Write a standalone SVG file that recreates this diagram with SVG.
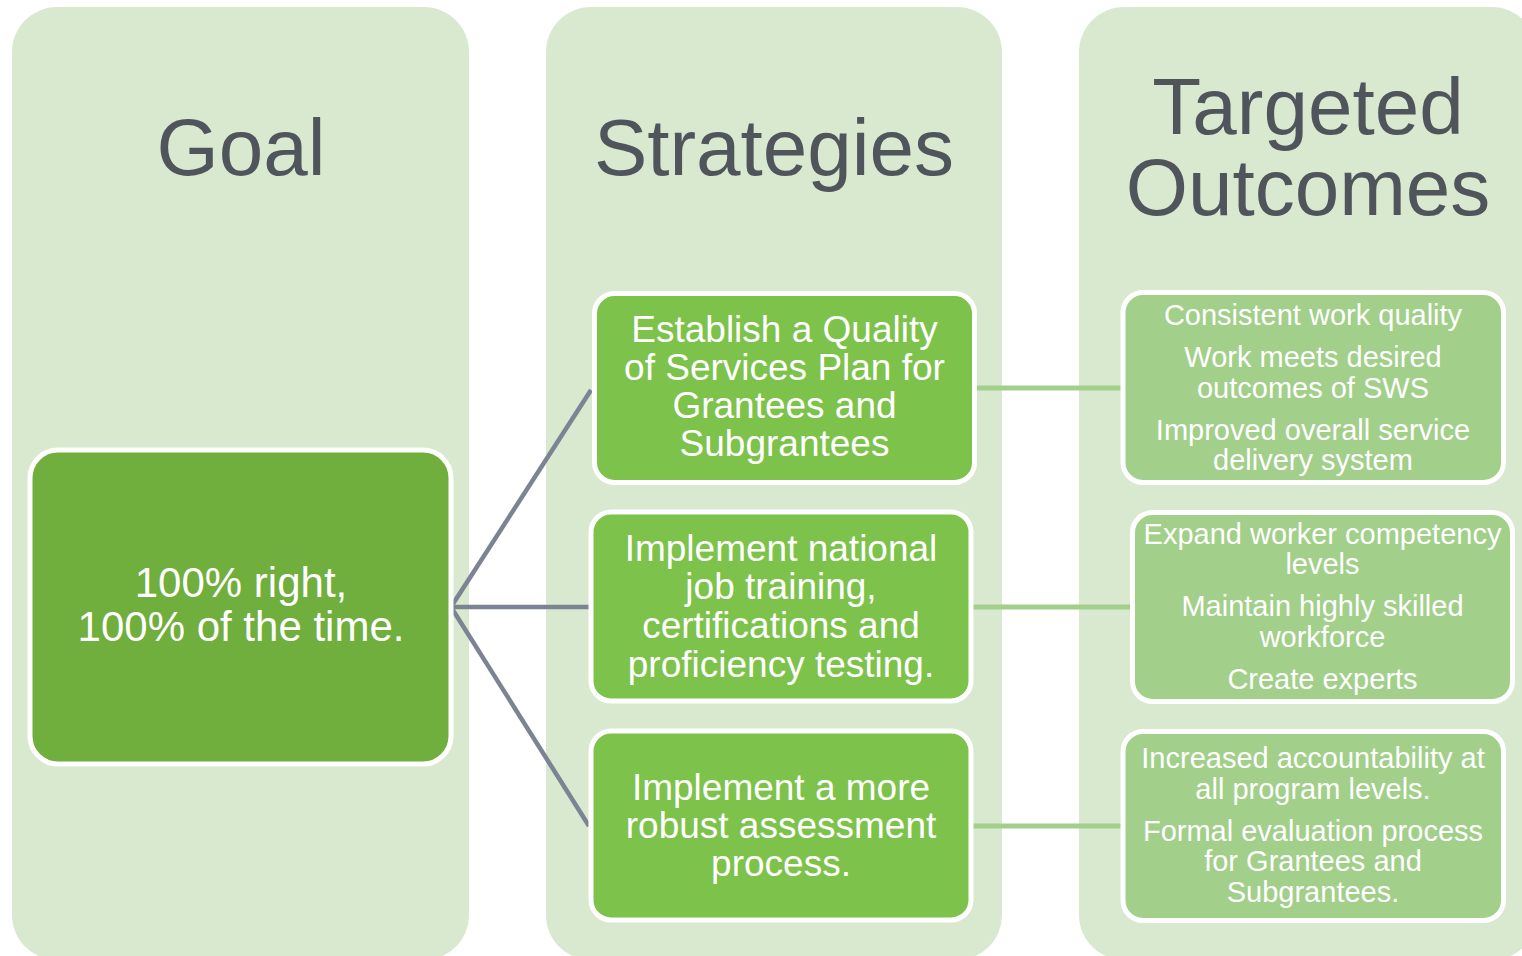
<svg xmlns="http://www.w3.org/2000/svg" width="1522" height="956" viewBox="0 0 1522 956">
<style>
.col{fill:#D8E9D0}
.title{font-family:"Liberation Sans",Arial,sans-serif;font-size:80px;fill:#50555C;text-anchor:middle}
.goal{fill:#70AE3D;stroke:#FFFFFF;stroke-width:5}
.strat{fill:#7DC24A;stroke:#FFFFFF;stroke-width:5}
.out{fill:#A2CF8A;stroke:#FFFFFF;stroke-width:5}
.t42{font-family:"Liberation Sans",Arial,sans-serif;font-size:42px;fill:#FFFFFF;text-anchor:middle}
.t37{font-family:"Liberation Sans",Arial,sans-serif;font-size:37px;fill:#FFFFFF;text-anchor:middle}
.t29{font-family:"Liberation Sans",Arial,sans-serif;font-size:29px;fill:#FFFFFF;text-anchor:middle}
.gray{stroke:#7C8393;stroke-width:4.5;fill:none}
.green{stroke:#A2CF8A;stroke-width:5;fill:none}
</style>
<rect width="1522" height="956" fill="#FFFFFF"/>
<g id="columns">
<rect class="col" x="12" y="7" width="457" height="953" rx="45"/>
<rect class="col" x="546" y="7" width="456" height="953" rx="45"/>
<rect class="col" x="1079" y="7" width="458" height="953" rx="45"/>
<text class="title" x="241" y="175">Goal</text>
<text class="title" x="774" y="175">Strategies</text>
<text class="title" x="1308" y="134">Targeted</text>
<text class="title" x="1308" y="215">Outcomes</text>
</g>
<g id="connectors">
<line class="gray" x1="451" y1="607" x2="591" y2="390"/>
<line class="gray" x1="451" y1="607" x2="589" y2="607"/>
<line class="gray" x1="451" y1="607" x2="589" y2="826"/>
<line class="green" x1="976" y1="388" x2="1122" y2="388"/>
<line class="green" x1="971" y1="607" x2="1132" y2="607"/>
<line class="green" x1="971" y1="826" x2="1122" y2="826"/>
</g>
<g id="goal">
<rect class="goal" x="30" y="450" width="421" height="314" rx="28"/>
<text class="t42" x="241" y="597">100% right,</text>
<text class="t42" x="241" y="641">100% of the time.</text>
</g>
<g id="strategy1">
<rect class="strat" x="594.5" y="293.5" width="380" height="189" rx="20"/>
<text class="t37" x="784.5" y="342">Establish a Quality</text>
<text class="t37" x="784.5" y="380">of Services Plan for</text>
<text class="t37" x="784.5" y="418">Grantees and</text>
<text class="t37" x="784.5" y="456">Subgrantees</text>
</g>
<g id="strategy2">
<rect class="strat" x="591" y="512" width="380" height="189" rx="20"/>
<text class="t37" x="781" y="561">Implement national</text>
<text class="t37" x="781" y="599">job training,</text>
<text class="t37" x="781" y="638">certifications and</text>
<text class="t37" x="781" y="677">proficiency testing.</text>
</g>
<g id="strategy3">
<rect class="strat" x="591" y="731" width="380" height="189" rx="20"/>
<text class="t37" x="781" y="800">Implement a more</text>
<text class="t37" x="781" y="838">robust assessment</text>
<text class="t37" x="781" y="876">process.</text>
</g>
<g id="outcome1">
<rect class="out" x="1123" y="292.5" width="380.5" height="190" rx="20"/>
<text class="t29" x="1313" y="325">Consistent work quality</text>
<text class="t29" x="1313" y="367">Work meets desired</text>
<text class="t29" x="1313" y="398">outcomes of SWS</text>
<text class="t29" x="1313" y="440">Improved overall service</text>
<text class="t29" x="1313" y="470">delivery system</text>
</g>
<g id="outcome2">
<rect class="out" x="1132.5" y="512.5" width="380" height="189" rx="20"/>
<text class="t29" x="1322.5" y="544">Expand worker competency</text>
<text class="t29" x="1322.5" y="574">levels</text>
<text class="t29" x="1322.5" y="616">Maintain highly skilled</text>
<text class="t29" x="1322.5" y="647">workforce</text>
<text class="t29" x="1322.5" y="689">Create experts</text>
</g>
<g id="outcome3">
<rect class="out" x="1123" y="731.5" width="380.5" height="189" rx="20"/>
<text class="t29" x="1313" y="768">Increased accountability at</text>
<text class="t29" x="1313" y="799">all program levels.</text>
<text class="t29" x="1313" y="841">Formal evaluation process</text>
<text class="t29" x="1313" y="871">for Grantees and</text>
<text class="t29" x="1313" y="902">Subgrantees.</text>
</g>
</svg>
